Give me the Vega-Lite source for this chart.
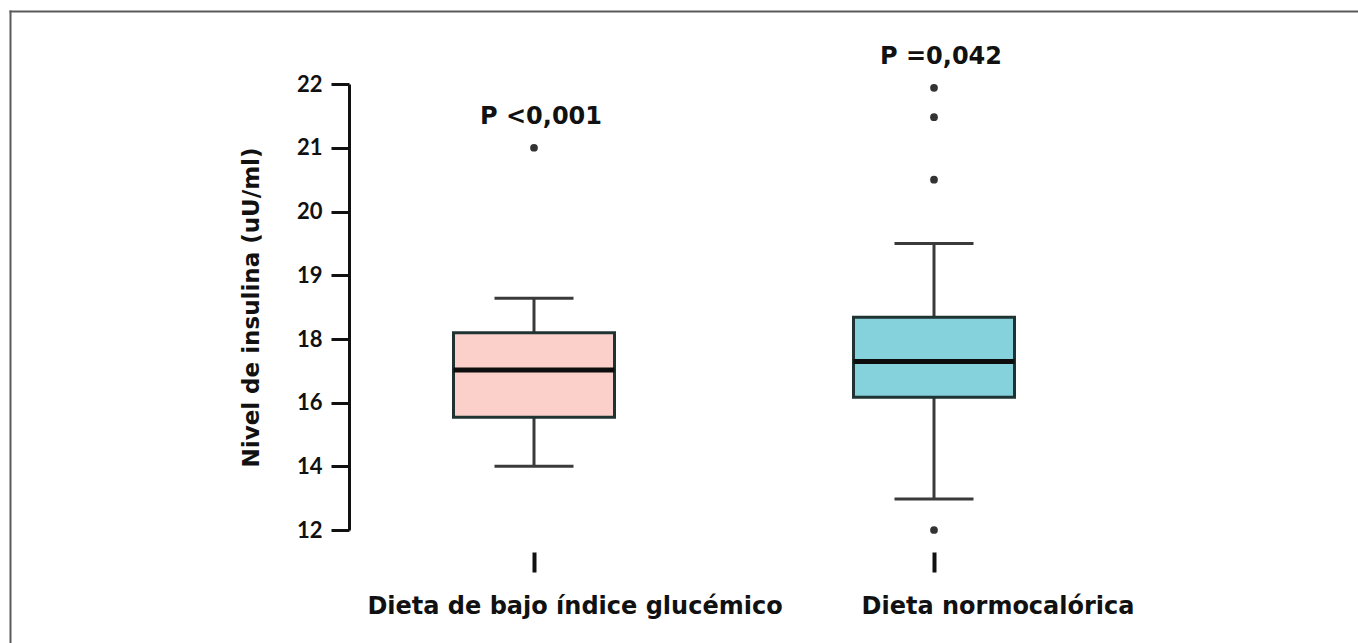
{
  "$schema": "https://vega.github.io/schema/vega-lite/v6.json",
  "autosize": {"type": "none"},
  "width": 1348,
  "height": 632,
  "padding": {"left": 10, "top": 11, "right": 0, "bottom": 0},
  "background": "white",
  "config": {
    "view": {"stroke": null},
    "axis": {"grid": false}
  },
  "datasets": {
    "cajas": [
      {"dieta": "Dieta de bajo índice glucémico", "minimo": 14.0, "q1": 15.54, "mediana": 17.03, "q3": 18.1, "maximo": 18.64, "extremo": 21.0, "p": "P <0,001"},
      {"dieta": "Dieta normocalórica", "minimo": 12.97, "q1": 16.17, "mediana": 17.29, "q3": 18.34, "maximo": 19.5, "extremo": 21.94, "p": "P =0,042"}
    ],
    "atipicos": [
      {"dieta": "Dieta de bajo índice glucémico", "valor": 21.0},
      {"dieta": "Dieta normocalórica", "valor": 21.94},
      {"dieta": "Dieta normocalórica", "valor": 21.48},
      {"dieta": "Dieta normocalórica", "valor": 20.5},
      {"dieta": "Dieta normocalórica", "valor": 12.0}
    ]
  },
  "data": {"name": "cajas"},
  "resolve": {
    "scale": {"x": "independent", "y": "independent"},
    "axis": {"x": "independent", "y": "independent"}
  },
  "layer": [
    {
      "encoding": {
        "x": {
          "field": "dieta",
          "type": "nominal",
          "sort": ["Dieta de bajo índice glucémico", "Dieta normocalórica"],
          "scale": {"type": "band", "range": [324, 1124], "paddingInner": 0, "paddingOuter": 0},
          "axis": {
            "title": null,
            "orient": "bottom",
            "offset": -91,
            "domain": false,
            "bandPosition": 0.5,
            "labelAngle": 0,
            "labelLimit": 0,
            "tickSize": 20,
            "tickWidth": 4,
            "tickColor": "#111111",
            "labelPadding": 22,
            "labelFont": "DejaVu Sans",
            "labelFontWeight": "bold",
            "labelFontSize": 24,
            "labelColor": "#111111",
            "labelOffset": {"expr": "datum.value === 'Dieta normocalórica' ? 64 : 41"}
          }
        }
      },
      "layer": [
        {
          "mark": {"type": "rule", "stroke": "#3a3a3a", "strokeWidth": 3},
          "encoding": {
            "y": {
              "field": "minimo",
              "type": "quantitative",
              "title": "Nivel de insulina (uU/ml)",
              "scale": {"domain": [12, 18, 22], "range": [519, 328, 73], "zero": false, "nice": false},
              "axis": {
                "orient": "left",
                "values": [12, 14, 16, 18, 19, 20, 21, 22],
                "format": "d",
                "offset": -339,
                "domainColor": "#111111",
                "domainWidth": 3,
                "tickColor": "#111111",
                "tickWidth": 3,
                "tickSize": 18,
                "labelPadding": 9,
                "labelFont": "Lato",
                "labelFontWeight": "bold",
                "labelFontSize": 22,
                "labelColor": "#111111",
                "titleFont": "DejaVu Sans",
                "titleFontWeight": "bold",
                "titleFontSize": 23,
                "titleColor": "#111111",
                "titlePadding": 33
              }
            },
            "y2": {"field": "q1"}
          }
        },
        {
          "mark": {"type": "rule", "stroke": "#3a3a3a", "strokeWidth": 3},
          "encoding": {
            "y": {"field": "q3", "type": "quantitative", "title": "Nivel de insulina (uU/ml)"},
            "y2": {"field": "maximo"}
          }
        },
        {
          "mark": {"type": "tick", "orient": "horizontal", "color": "#3a3a3a", "size": 79, "thickness": 3, "opacity": 1},
          "encoding": {
            "y": {"field": "minimo", "type": "quantitative", "title": "Nivel de insulina (uU/ml)"}
          }
        },
        {
          "mark": {"type": "tick", "orient": "horizontal", "color": "#3a3a3a", "size": 79, "thickness": 3, "opacity": 1},
          "encoding": {
            "y": {"field": "maximo", "type": "quantitative", "title": "Nivel de insulina (uU/ml)"}
          }
        },
        {
          "mark": {"type": "bar", "width": {"band": 0.4025}, "stroke": "#1f3333", "strokeWidth": 3, "opacity": 1},
          "encoding": {
            "y": {"field": "q1", "type": "quantitative", "title": "Nivel de insulina (uU/ml)"},
            "y2": {"field": "q3"},
            "fill": {
              "field": "dieta",
              "type": "nominal",
              "scale": {"domain": ["Dieta de bajo índice glucémico", "Dieta normocalórica"], "range": ["#fbd0cb", "#85d1dc"]},
              "legend": null
            }
          }
        },
        {
          "mark": {"type": "tick", "orient": "horizontal", "color": "#0d0d0d", "size": 161, "thickness": 5, "opacity": 1},
          "encoding": {
            "y": {"field": "mediana", "type": "quantitative", "title": "Nivel de insulina (uU/ml)"}
          }
        },
        {
          "data": {"name": "atipicos"},
          "mark": {"type": "circle", "color": "#333333", "size": 60, "opacity": 1},
          "encoding": {
            "y": {"field": "valor", "type": "quantitative", "title": "Nivel de insulina (uU/ml)"}
          }
        },
        {
          "mark": {"type": "text", "font": "DejaVu Sans", "fontWeight": "bold", "fontSize": 24, "color": "#111111", "align": "center", "baseline": "alphabetic", "dy": -24, "dx": 7},
          "encoding": {
            "y": {"field": "extremo", "type": "quantitative", "title": "Nivel de insulina (uU/ml)"},
            "text": {"field": "p"}
          }
        }
      ]
    },
    {
      "description": "Figure frame: top and left border lines drawn as bare axis domains",
      "mark": {"type": "point", "opacity": 0},
      "encoding": {
        "x": {
          "datum": 0,
          "type": "quantitative",
          "scale": {"domain": [0, 1], "nice": false, "zero": false},
          "axis": {"orient": "top", "offset": 0, "title": null, "labels": false, "ticks": false, "domainColor": "#5a5a5a", "domainWidth": 2, "domainCap": "square"}
        },
        "y": {
          "datum": 0,
          "type": "quantitative",
          "scale": {"domain": [0, 1], "nice": false, "zero": false},
          "axis": {"orient": "right", "offset": -1348, "title": null, "labels": false, "ticks": false, "domainColor": "#5a5a5a", "domainWidth": 2, "domainCap": "square"}
        }
      }
    }
  ]
}
